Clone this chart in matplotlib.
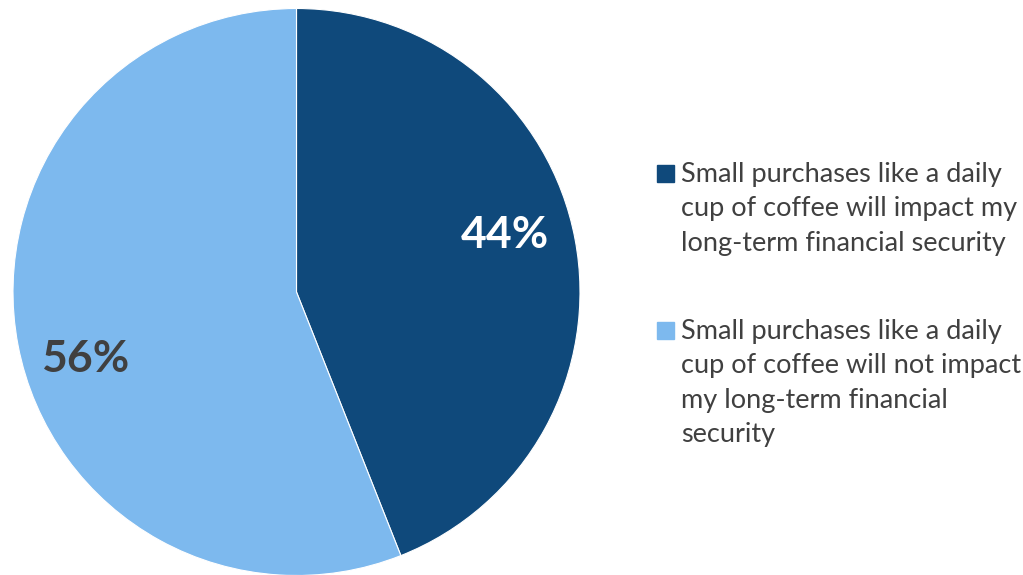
import matplotlib.pyplot as plt
from matplotlib.patches import Rectangle

# survey split
labels = [
    "Small purchases like a daily\ncup of coffee will impact my\nlong-term financial security",
    "Small purchases like a daily\ncup of coffee will not impact\nmy long-term financial\nsecurity",
]
shares = [44, 56]
colors = ["#0F497B", "#7DB9EE"]
label_colors = ["white", "#404040"]

plt.rcParams["font.family"] = ["Lato", "DejaVu Sans"]

fig = plt.figure(figsize=(10.23, 5.75), dpi=100)
ax = fig.add_axes([0, 0, 1, 1])

cx, cy, r = 296.5, 283, 283.5
wedges, texts, autotexts = ax.pie(
    shares,
    colors=colors,
    startangle=90,
    counterclock=False,
    center=(cx, cy),
    radius=r,
    autopct="%d%%",
    wedgeprops=dict(edgecolor="white", linewidth=0.8),
    frame=True,
)
ax.set_xlim(0, 1023)
ax.set_ylim(0, 575)
ax.set_aspect("equal")
ax.axis("off")

# data labels sit a bit off the wedge bisector, as in the office default
label_pos = [(505, 340), (85, 216)]
for t, c, pos in zip(autotexts, label_colors, label_pos):
    t.set_position(pos)
    t.set_color(c)
    t.set_fontsize(32)
    t.set_fontweight("bold")

# legend, drawn by hand
tops = [575 - 165, 575 - 322]
for top, lab, c in zip(tops, labels, colors):
    ax.add_patch(Rectangle((657, top - 17), 17, 17, color=c))
    ax.text(681, top + 3, lab, fontsize=19.5, color="#404040",
            va="top", ha="left", linespacing=1.47)

fig.savefig("out.png", dpi=100)
